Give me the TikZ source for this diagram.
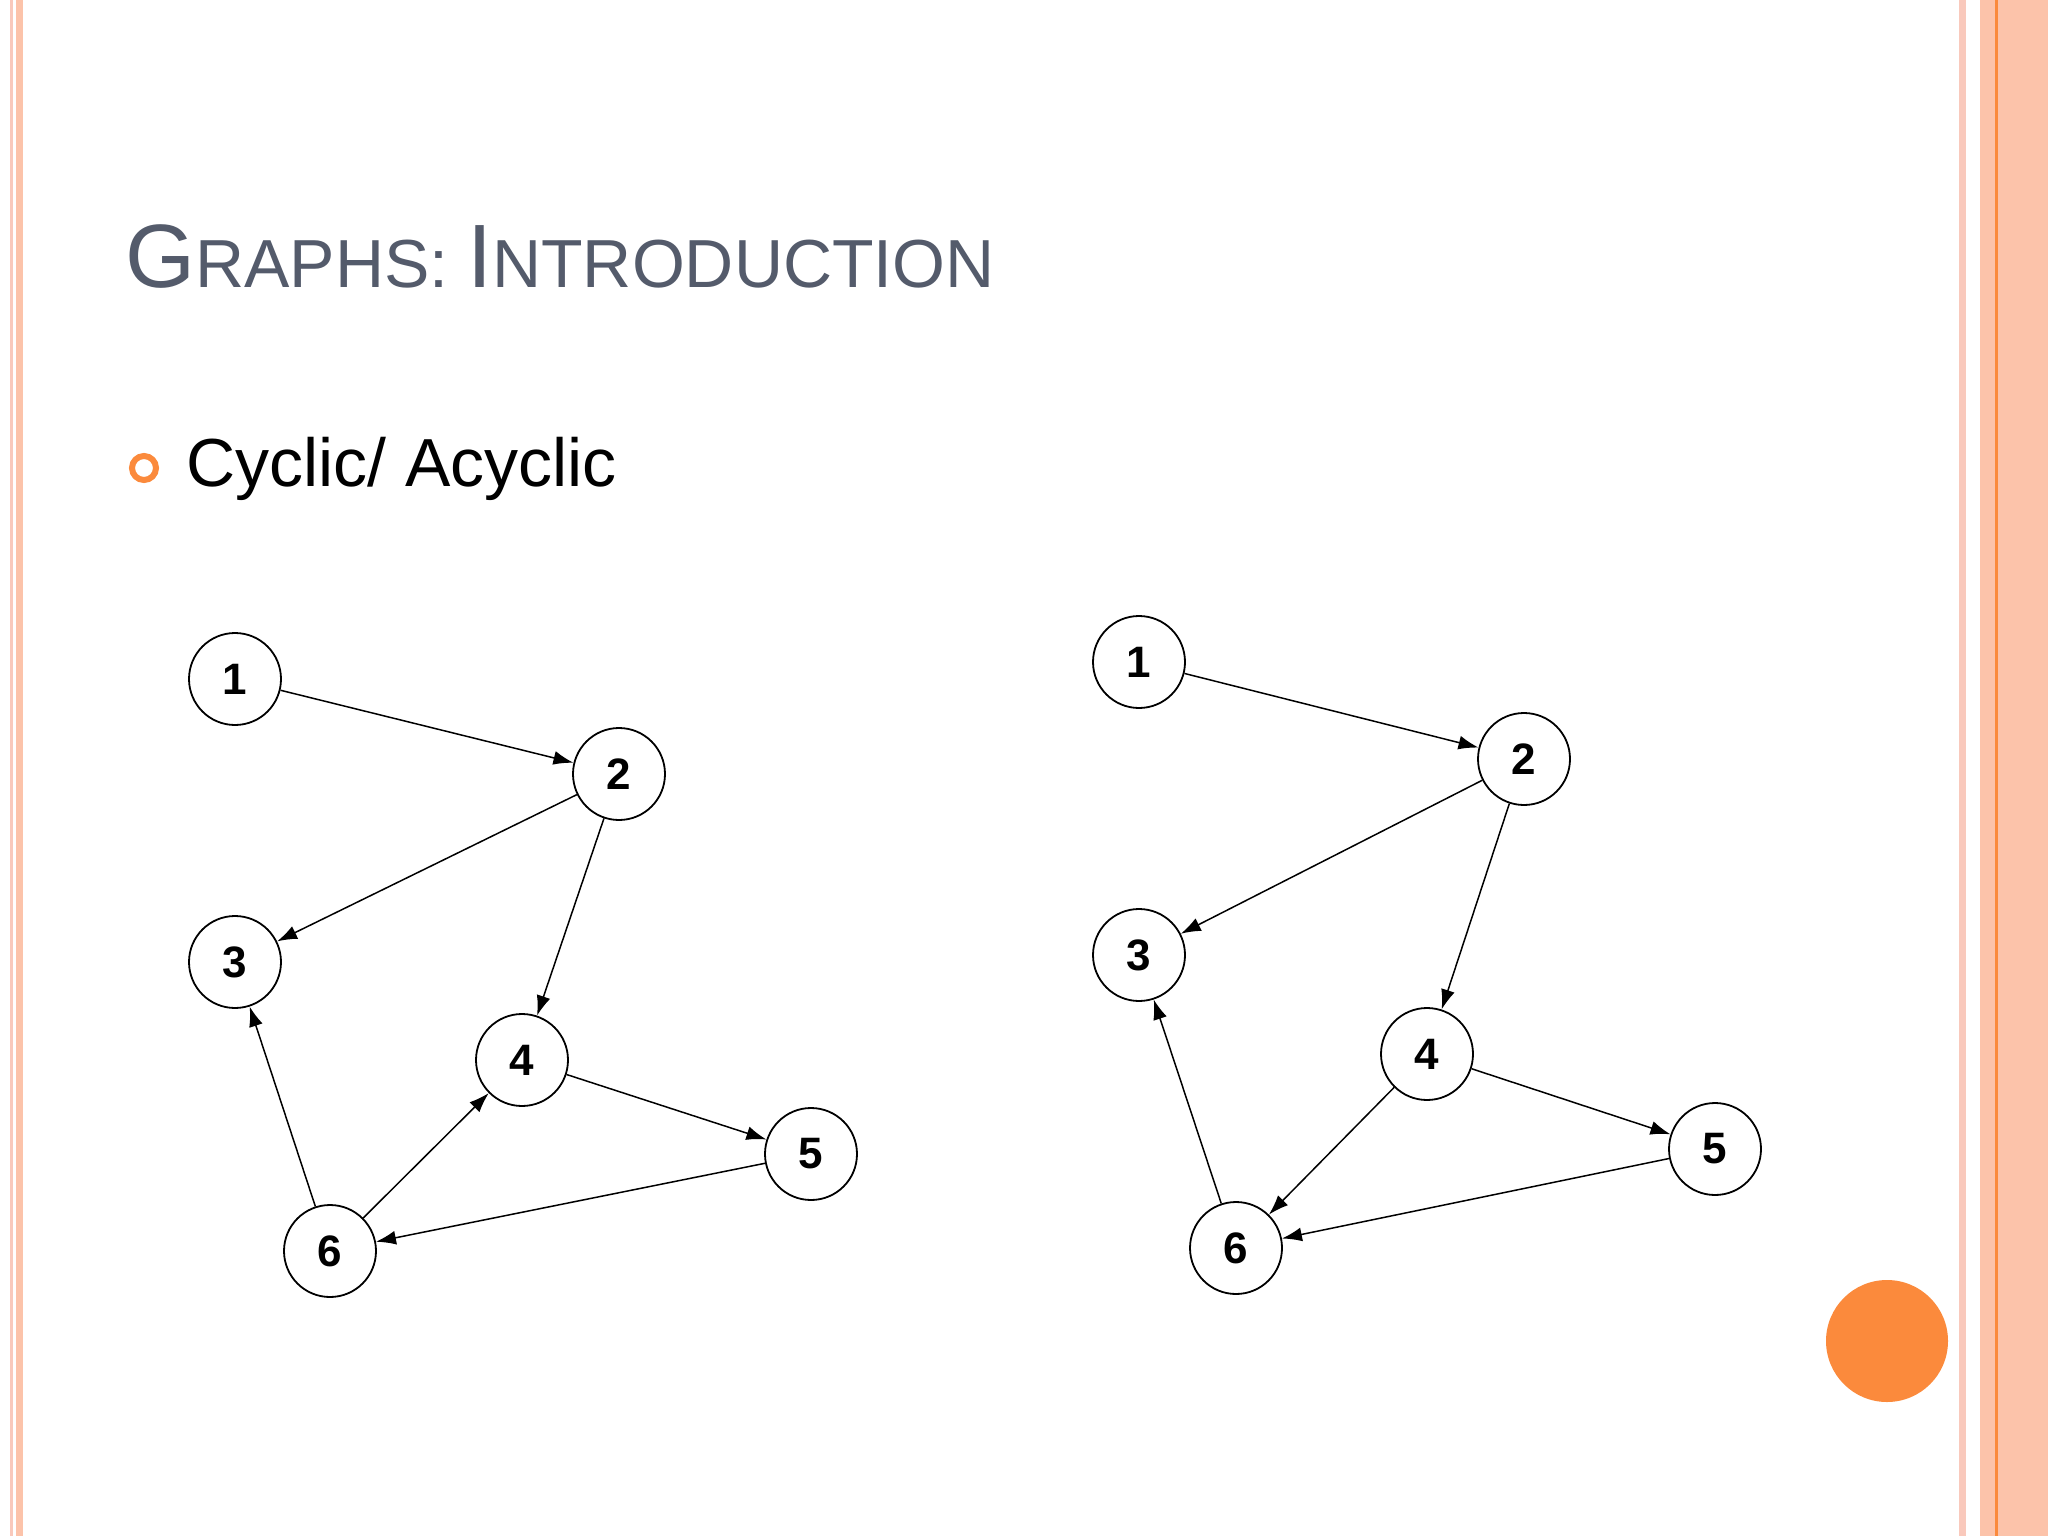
\documentclass[tikz,border=0pt]{standalone}
\usepackage{fontspec}
\setmainfont{Liberation Sans}
\usetikzlibrary{arrows.meta}
\definecolor{salmon}{HTML}{FCC3AA}
\definecolor{pale}{HTML}{F9C9BC}
\definecolor{orng}{HTML}{FB8A3C}
\definecolor{titleg}{HTML}{545B6B}
\begin{document}
\begin{tikzpicture}[x=1pt,y=-1pt,
  vtx/.style={circle,draw,line width=1.8pt,minimum size=92pt,inner sep=0pt,font=\fontsize{44}{44}\selectfont\bfseries},
  arc/.style={-{Latex[length=20pt,width=14pt]},line width=1.5pt}]
\useasboundingbox (0,0) rectangle (2048,1536);
\fill[white] (0,0) rectangle (2048,1536);
% borders
\fill[pale] (10,0) rectangle (13,1536);
\fill[salmon] (16,0) rectangle (23,1536);
\fill[pale] (1959,0) rectangle (1966,1536);
\fill[salmon] (1980,0) rectangle (2048,1536);
\fill[orng] (1995,0) rectangle (1998,1536);
% title
\node[anchor=base west,text=titleg,inner sep=0] (title) at (125,287)
 {\fontsize{90}{90}\selectfont G\fontsize{68}{68}\selectfont RAPHS: \fontsize{90}{90}\selectfont I\fontsize{68}{68}\selectfont NTRODUCTION};
\draw[orng,line width=6pt] (144,468) circle (12) coordinate (bul);
\node[anchor=base west,inner sep=0] (sub) at (186,486) {\fontsize{68}{68}\selectfont Cyclic/ Acyclic};
\fill[orng] (1887,1341) circle (61) coordinate (dot);
% left graph
\node[vtx] (a1) at (235,679) {1};
\node[vtx] (a2) at (619,774) {2};
\node[vtx] (a3) at (235,962) {3};
\node[vtx] (a4) at (522,1060) {4};
\node[vtx] (a5) at (811,1154) {5};
\node[vtx] (a6) at (330,1251) {6};
\draw[arc] (a1)--(a2); \draw[arc] (a2)--(a3); \draw[arc] (a2)--(a4);
\draw[arc] (a4)--(a5); \draw[arc] (a5)--(a6); \draw[arc] (a6)--(a3); \draw[arc] (a6)--(a4);
% right graph
\node[vtx] (b1) at (1139,662) {1};
\node[vtx] (b2) at (1524,759) {2};
\node[vtx] (b3) at (1139,955) {3};
\node[vtx] (b4) at (1427,1054) {4};
\node[vtx] (b5) at (1715,1149) {5};
\node[vtx] (b6) at (1236,1248) {6};
\draw[arc] (b1)--(b2); \draw[arc] (b2)--(b3); \draw[arc] (b2)--(b4);
\draw[arc] (b4)--(b5); \draw[arc] (b5)--(b6); \draw[arc] (b6)--(b3); \draw[arc] (b4)--(b6);
\end{tikzpicture}
\end{document}
